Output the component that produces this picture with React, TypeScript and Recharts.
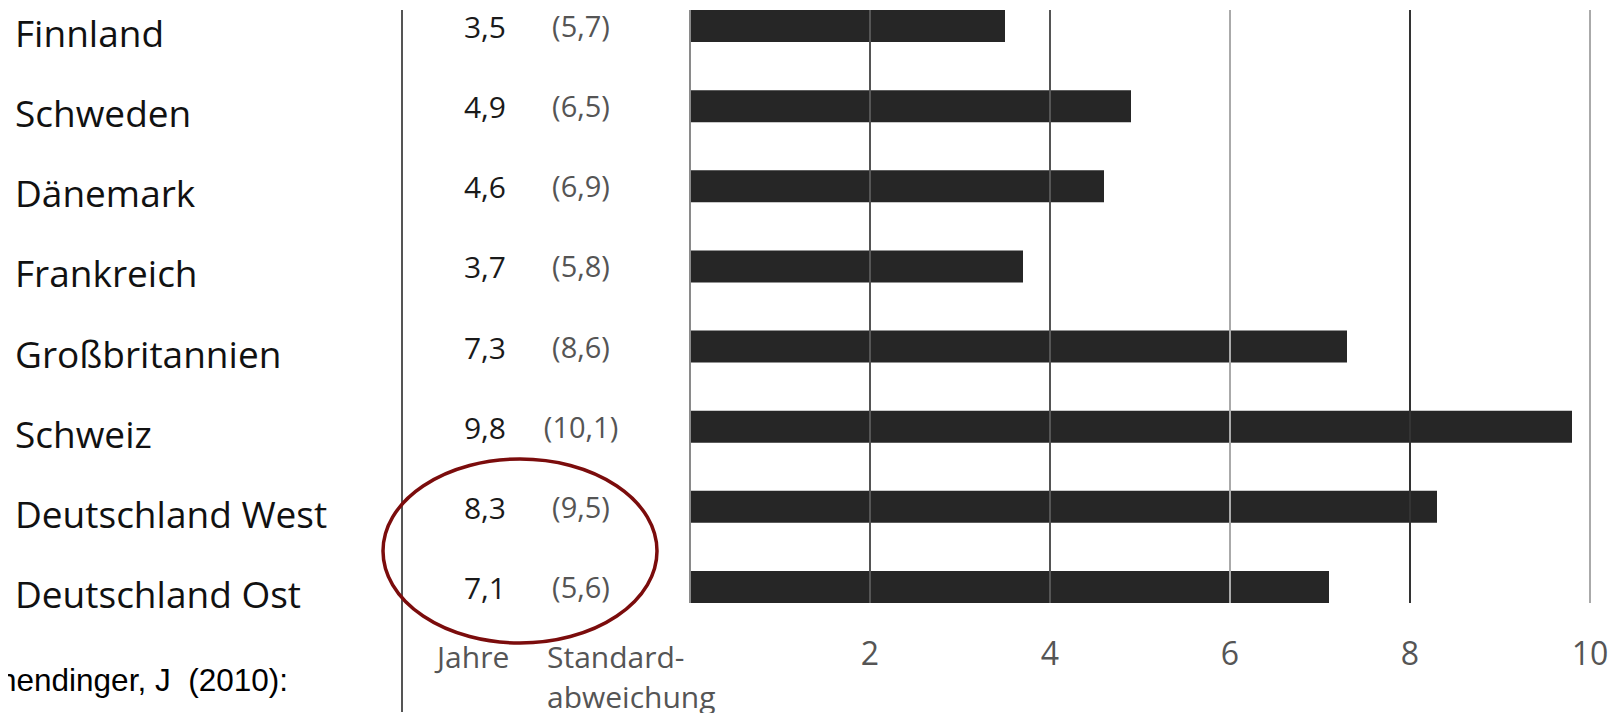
import React from 'react';
import { BarChart, Bar, XAxis, YAxis, ReferenceLine } from 'recharts';

const countries = [
  'Finnland',
  'Schweden',
  'Dänemark',
  'Frankreich',
  'Großbritannien',
  'Schweiz',
  'Deutschland West',
  'Deutschland Ost'
];
const years = [3.5, 4.9, 4.6, 3.7, 7.3, 9.8, 8.3, 7.1];
const stdDev = [5.7, 6.5, 6.9, 5.8, 8.6, 10.1, 9.5, 5.6];
const xTicks = [2, 4, 6, 8, 10];
const gridValues = [0, 2, 4, 6, 8, 10];
const gridColors = ['#8a8a8a', '#555', '#555', '#aaa', '#333', '#aaa'];

const data = countries.map((country, i) => ({ country, years: years[i], sd: stdDev[i] }));

const FONT = '"Open Sans", sans-serif';
const fmt = (v: number) => v.toString().replace('.', ',');

const CountryTick = (props: any) => {
  const { y, payload } = props;
  const i = payload.index;
  return (
    <g>
      <text x={7} y={y + 21} fontFamily={FONT} fontSize={37} fill="#111">
        {countries[i]}
      </text>
      <text x={498} y={y + 12} fontFamily={FONT} fontSize={30} fill="#1a1a1a" textAnchor="end">
        {fmt(years[i])}
      </text>
      <text x={573} y={y + 11} fontFamily={FONT} fontSize={29} fill="#555" textAnchor="middle">
        ({fmt(stdDev[i])})
      </text>
    </g>
  );
};

const ValueTick = (props: any) => {
  const { x, y, payload } = props;
  return (
    <text x={x} y={y + 62} fontFamily={FONT} fontSize={32} fill="#555" textAnchor="middle">
      {payload.value}
    </text>
  );
};

const App = () => {
  return (
    <div style={{ position: 'relative', width: 1600, height: 705 }}>
      <BarChart
        width={1600}
        height={705}
        data={data}
        layout="vertical"
        margin={{ top: 2, right: 18, left: 0, bottom: 70 }}
      >
        <XAxis
          type="number"
          domain={[0, 10]}
          ticks={xTicks}
          axisLine={false}
          tickLine={false}
          tickSize={0}
          tickMargin={0}
          height={40}
          tick={<ValueTick />}
        />
        <YAxis
          type="category"
          dataKey="country"
          width={682}
          axisLine={false}
          tickLine={false}
          tickSize={0}
          tickMargin={0}
          padding={{ top: -24, bottom: -24 }}
          interval={0}
          tick={<CountryTick />}
        />
        {gridValues.map((v, i) => (
          <ReferenceLine key={v} x={v} stroke={gridColors[i]} strokeWidth={2} />
        ))}
        <Bar dataKey="years" fill="#262626" barSize={32} isAnimationActive={false} />
      </BarChart>
      <svg
        width={1600}
        height={705}
        style={{ position: 'absolute', left: 0, top: 0, overflow: 'visible', pointerEvents: 'none' }}
      >
        <line x1={394} y1={2} x2={394} y2={704} stroke="#555" strokeWidth={2} />
        <ellipse cx={512} cy={543} rx={137} ry={92} fill="none" stroke="#7b0c0c" strokeWidth={3.5} />
        <text x={429} y={660} fontFamily={FONT} fontSize={30} fill="#555">Jahre</text>
        <text x={539} y={660} fontFamily={FONT} fontSize={30} fill="#555">Standard-</text>
        <text x={539} y={700} fontFamily={FONT} fontSize={30} fill="#555">abweichung</text>
        <text
          x={-9}
          y={683}
          fontFamily='"Liberation Sans", Arial, sans-serif'
          fontSize={31.5}
          fill="#000"
          style={{ whiteSpace: 'pre' }}
        >
          {'hendinger, J  (2010):'}
        </text>
      </svg>
    </div>
  );
};

export default App;
